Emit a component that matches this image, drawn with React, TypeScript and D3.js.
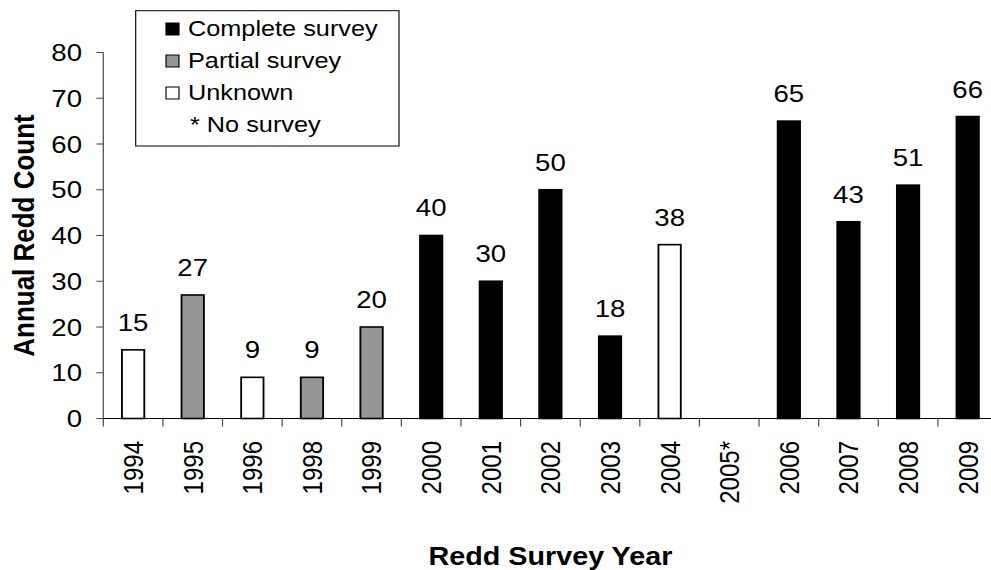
import React from "react";
import * as d3 from "d3";

// Redd survey years, counts and survey type per year
const years = ["1994", "1995", "1996", "1998", "1999", "2000", "2001", "2002", "2003", "2004", "2005*", "2006", "2007", "2008", "2009"];
const counts: (number | null)[] = [15, 27, 9, 9, 20, 40, 30, 50, 18, 38, null, 65, 43, 51, 66];
const surveyType = ["Unknown", "Partial", "Unknown", "Partial", "Partial", "Complete", "Complete", "Complete", "Complete", "Unknown", "None", "Complete", "Complete", "Complete", "Complete"];
const yTicks = [0, 10, 20, 30, 40, 50, 60, 70, 80];
const legendItems = ["Complete survey", "Partial survey", "Unknown"];
const legendKeys = ["Complete", "Partial", "Unknown"];
const legendNote = "* No survey";

const fillFor: Record<string, string> = {
  Complete: "#000000",
  Partial: "#969696",
  Unknown: "#ffffff",
  None: "none",
};

const W = 991;
const H = 570;
// horizontal stretch applied to the whole drawing
const SX = 1.15;
const FONT = "Arial, 'Liberation Sans', Helvetica, sans-serif";

export default function App() {
  const x0 = 103.3 / SX;
  const x1 = 997.5 / SX;
  const yTop = 52.5;
  const yBot = 418.5;

  const x = d3.scaleBand<string>().domain(years).range([x0, x1]).paddingInner(0.625).paddingOuter(0.3125);
  const y = d3.scaleLinear().domain([0, 80]).range([yBot, yTop]);
  const step = x.step();
  const boundaries = d3.range(years.length + 1).map((i) => x0 + i * step);

  const legendX = 135.7 / SX;
  const legendW = (399 - 135.7) / SX;

  return (
    <svg width={W} height={H} style={{ position: "absolute", left: 0, top: 0, background: "#fff" }} fontFamily={FONT}>
      <rect width={W} height={H} fill="#fff" />
      <g transform={`scale(${SX},1)`}>
        {/* y axis */}
        <line x1={x0} x2={x0} y1={yTop} y2={yBot} stroke="#444" strokeWidth={1} />
        {yTicks.map((t) => (
          <g key={t}>
            <line x1={x0 - 7 / SX} x2={x0} y1={y(t)} y2={y(t)} stroke="#444" strokeWidth={1} />
            <text x={82 / SX} y={y(t)} dy="0.36em" textAnchor="end" fontSize={24} fill="#000">
              {t}
            </text>
          </g>
        ))}

        {/* bars */}
        {years.map((yr, i) => {
          const v = counts[i];
          if (v == null) return null;
          const bx = x(yr)!;
          return (
            <g key={yr}>
              <rect
                x={bx}
                y={y(v)}
                width={x.bandwidth()}
                height={y(0) - y(v)}
                fill={fillFor[surveyType[i]]}
                stroke="#000"
                strokeWidth={1.6}
              />
              <text x={bx + x.bandwidth() / 2} y={y(v) - 19} textAnchor="middle" fontSize={24} fill="#000">
                {v}
              </text>
            </g>
          );
        })}

        {/* x axis */}
        <line x1={x0} x2={W / SX} y1={yBot} y2={yBot} stroke="#000" strokeWidth={1.2} />
        {boundaries.map((bx, i) => (
          <line key={i} x1={bx} x2={bx} y1={yBot} y2={yBot + 8} stroke="#444" strokeWidth={1} />
        ))}
        {years.map((yr) => {
          const cx = x(yr)! + x.bandwidth() / 2;
          return (
            <text
              key={yr}
              transform={`translate(${cx},441) rotate(-90)`}
              dy="0.36em"
              textAnchor="end"
              fontSize={24}
              fill="#000"
            >
              {yr}
            </text>
          );
        })}

        {/* axis titles */}
        <text x={(x0 + x1) / 2} y={565} textAnchor="middle" fontSize={25} fontWeight="bold" fill="#000">
          Redd Survey Year
        </text>
        <text
          transform={`translate(${34 / SX},${(yTop + yBot) / 2}) rotate(-90)`}
          textAnchor="middle"
          fontSize={26}
          fontWeight="bold"
          fill="#000"
        >
          Annual Redd Count
        </text>

        {/* legend */}
        <rect x={legendX} y={10.7} width={legendW} height={135.3} fill="#fff" stroke="#000" strokeWidth={1} />
        {legendItems.map((name, i) => {
          const base = 36 + i * 32;
          return (
            <g key={name}>
              <rect
                x={166 / SX}
                y={base - 13}
                width={13 / SX}
                height={12}
                fill={fillFor[legendKeys[i]]}
                stroke="#000"
                strokeWidth={1}
              />
              <text x={188 / SX} y={base} fontSize={22} fill="#000">
                {name}
              </text>
            </g>
          );
        })}
        <text x={190 / SX} y={36 + 3 * 32} fontSize={22} fill="#000">
          {legendNote}
        </text>
      </g>
    </svg>
  );
}
